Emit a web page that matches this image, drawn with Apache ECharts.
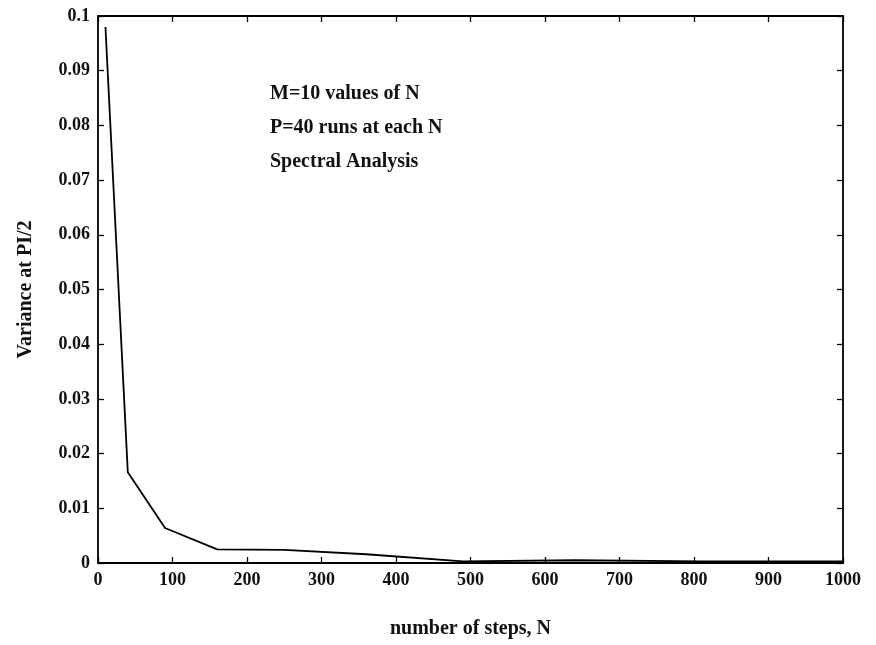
<!DOCTYPE html>
<html>
<head>
<meta charset="utf-8">
<script src="https://cdn.jsdelivr.net/npm/echarts@6/dist/echarts.min.js"></script>
<style>html,body{margin:0;padding:0;background:#fff;}#c{width:876px;height:645px;}</style>
</head>
<body>
<div id="c"></div>
<script>
const stepsN = [10, 40, 90, 160, 250, 360, 490, 640, 810, 1000];
const variance = [0.098, 0.0166, 0.0064, 0.0025, 0.0024, 0.0016, 0.0003, 0.0005, 0.0003, 0.0003];
const annotationLines = ['M=10 values of N', 'P=40 runs at each N', 'Spectral Analysis'];
const xTitle = 'number of steps, N';
const yTitle = 'Variance at PI/2';

const FONT = 'Liberation Serif';
const chart = echarts.init(document.getElementById('c'), null, {renderer: 'canvas'});
const axisCommon = {
  axisLine: {show: true, onZero: false, lineStyle: {color: '#000', width: 1.8}},
  axisTick: {show: true, inside: true, length: 6, lineStyle: {color: '#000', width: 1.3}},
  splitLine: {show: false}
};
const labelStyle = {fontFamily: FONT, fontSize: 18, fontWeight: 'bold', color: '#111'};
chart.setOption({
  animation: false,
  backgroundColor: '#fff',
  grid: {left: 98, right: 33, top: 16, bottom: 82},
  xAxis: [
    Object.assign({}, axisCommon, {
      type: 'value', min: 0, max: 1000, interval: 100, position: 'bottom',
      name: xTitle, nameLocation: 'middle', nameGap: 56,
      nameTextStyle: {fontFamily: FONT, fontSize: 20, fontWeight: 'bold', color: '#111'},
      axisLabel: Object.assign({margin: 8, formatter: v => String(v)}, labelStyle)
    }),
    Object.assign({}, axisCommon, {
      type: 'value', min: 0, max: 1000, interval: 100, position: 'top',
      axisLabel: {show: false}
    })
  ],
  yAxis: [
    Object.assign({}, axisCommon, {
      type: 'value', min: 0, max: 0.1, interval: 0.01, position: 'left',
      name: yTitle, nameLocation: 'middle', nameGap: 62, nameRotate: 90,
      nameTextStyle: {fontFamily: FONT, fontSize: 20, fontWeight: 'bold', color: '#111'},
      axisLabel: Object.assign({margin: 8,
        formatter: v => String(parseFloat(v.toFixed(3)))}, labelStyle)
    }),
    Object.assign({}, axisCommon, {
      type: 'value', min: 0, max: 0.1, interval: 0.01, position: 'right',
      axisLabel: {show: false}
    })
  ],
  series: [{
    type: 'line',
    data: stepsN.map((n, i) => [n, variance[i]]),
    symbol: 'none',
    lineStyle: {color: '#000', width: 1.8},
    xAxisIndex: 0, yAxisIndex: 0
  }],
  graphic: annotationLines.map((t, i) => ({
    type: 'text', left: 270, top: 84 + i * 34,
    style: {text: t, font: 'bold 20px "Liberation Serif"', fill: '#111'}
  }))
});
</script>
</body>
</html>
